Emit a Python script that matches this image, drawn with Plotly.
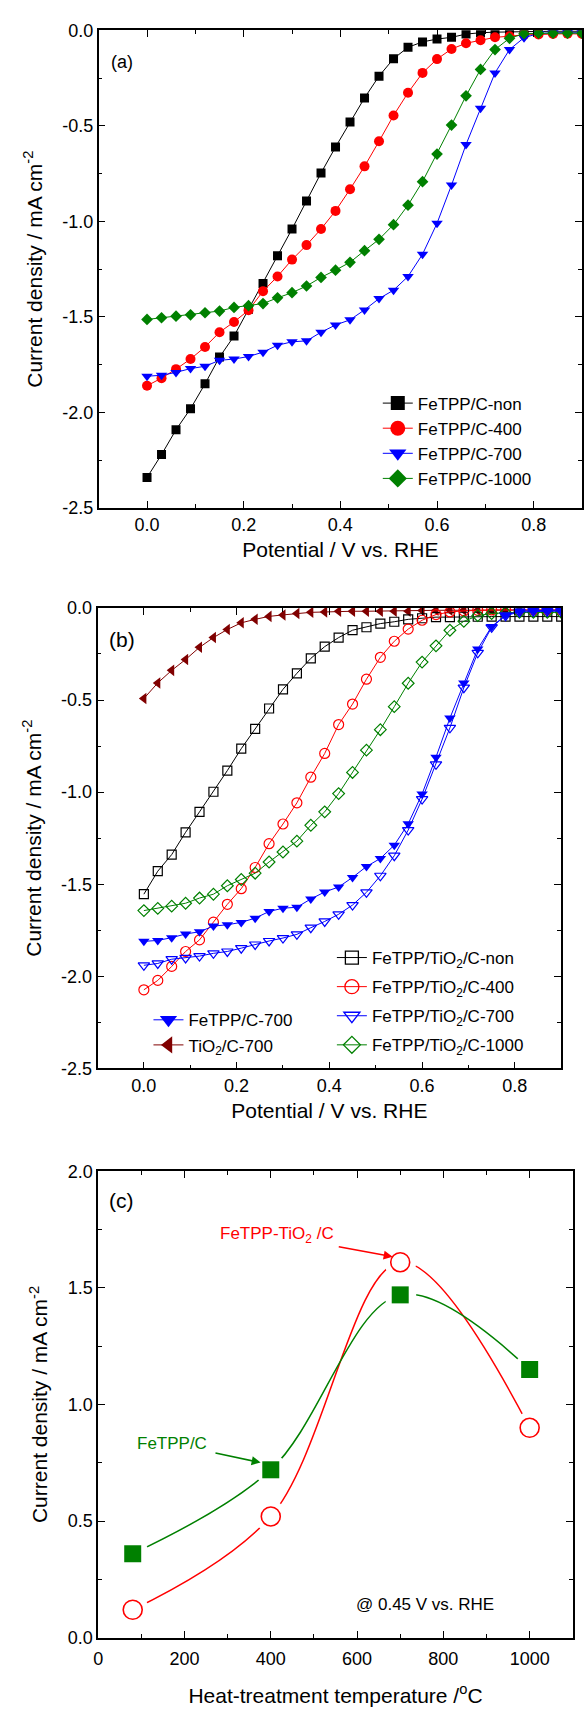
import plotly.graph_objects as go

# ---------------------------------------------------------------- data
potential = [0.00, 0.03, 0.06, 0.09, 0.12, 0.15, 0.18, 0.21, 0.24, 0.27,
             0.30, 0.33, 0.36, 0.39, 0.42, 0.45, 0.48, 0.51, 0.54, 0.57,
             0.60, 0.63, 0.66, 0.69, 0.72, 0.75, 0.78, 0.81, 0.84, 0.87, 0.90]

# (a) FeTPP/C, current density (mA cm-2)
fetpp_c_non = [-2.34, -2.22, -2.09, -1.98, -1.85, -1.71, -1.60, -1.46, -1.325, -1.18,
               -1.04, -0.893, -0.747, -0.611, -0.48, -0.354, -0.24, -0.149, -0.089, -0.061,
               -0.046, -0.037, -0.02, -0.013, -0.010, -0.008, -0.006, -0.005, -0.005, -0.005, -0.005]
fetpp_c_400 = [-1.86, -1.82, -1.773, -1.72, -1.657, -1.58, -1.526, -1.465, -1.365, -1.288,
               -1.20, -1.124, -1.04, -0.945, -0.832, -0.712, -0.581, -0.446, -0.327, -0.223,
               -0.151, -0.098, -0.068, -0.052, -0.037, -0.031, -0.024, -0.022, -0.020, -0.018, -0.020]
fetpp_c_700 = [-1.81, -1.805, -1.79, -1.77, -1.758, -1.727, -1.72, -1.707, -1.684, -1.648,
               -1.63, -1.625, -1.58, -1.542, -1.515, -1.463, -1.404, -1.36, -1.288, -1.172,
               -1.01, -0.81, -0.598, -0.408, -0.223, -0.101, -0.039, -0.017, -0.013, -0.013, -0.013]
fetpp_c_1000 = [-1.513, -1.504, -1.496, -1.489, -1.478, -1.469, -1.45, -1.441, -1.43, -1.40,
                -1.373, -1.338, -1.293, -1.255, -1.214, -1.153, -1.094, -1.017, -0.915, -0.792,
                -0.648, -0.496, -0.343, -0.205, -0.101, -0.042, -0.018, -0.015, -0.015, -0.015, -0.015]

# (b) FeTPP/TiO2/C and references
tio2_c_700 = [-0.492, -0.407, -0.339, -0.28, -0.214, -0.161, -0.117, -0.081, -0.062, -0.046,
              -0.038, -0.03, -0.024, -0.022, -0.018, -0.018, -0.018, -0.018, -0.018, -0.018,
              -0.014, -0.013, -0.012, -0.012, -0.012, -0.012, -0.012, -0.012, -0.012, -0.012, -0.012]
fetpp_tio2_c_non = [-1.554, -1.429, -1.339, -1.218, -1.107, -0.998, -0.883, -0.764, -0.657, -0.546,
                    -0.442, -0.355, -0.274, -0.21, -0.161, -0.121, -0.105, -0.085, -0.075, -0.062,
                    -0.056, -0.05, -0.05, -0.048, -0.048, -0.047, -0.047, -0.047, -0.047, -0.047, -0.047]
fetpp_tio2_c_400 = [-2.073, -2.022, -1.946, -1.865, -1.802, -1.706, -1.609, -1.524, -1.409, -1.28,
                    -1.173, -1.058, -0.919, -0.79, -0.633, -0.522, -0.387, -0.268, -0.181, -0.115,
                    -0.067, -0.036, -0.022, -0.016, -0.013, -0.011, -0.011, -0.011, -0.011, -0.011, -0.011]
fetpp_tio2_c_700 = [-1.94, -1.93, -1.907, -1.90, -1.89, -1.875, -1.865, -1.847, -1.827, -1.808,
                    -1.792, -1.772, -1.736, -1.702, -1.663, -1.613, -1.544, -1.454, -1.345, -1.206,
                    -1.038, -0.849, -0.651, -0.433, -0.244, -0.105, -0.042, -0.022, -0.018, -0.018, -0.018]
fetpp_tio2_c_1000 = [-1.643, -1.631, -1.619, -1.603, -1.575, -1.554, -1.508, -1.474, -1.44, -1.379,
                     -1.325, -1.266, -1.18, -1.107, -1.008, -0.893, -0.772, -0.661, -0.536, -0.409,
                     -0.294, -0.206, -0.121, -0.073, -0.042, -0.03, -0.026, -0.024, -0.024, -0.024, -0.024]

# (c) current density at 0.45 V vs. RHE against heat-treatment temperature
temperature = [80, 400, 700, 1000]
j045_fetpp_c = [0.36, 0.72, 1.47, 1.15]
j045_fetpp_tio2_c = [0.12, 0.52, 1.61, 0.90]

# tick labels (plain hyphen minus)
cd_ticks = [-2.5, -2.0, -1.5, -1.0, -0.5, 0.0]
cd_ticktext = ["-2.5", "-2.0", "-1.5", "-1.0", "-0.5", "0.0"]
pot_ticks = [0.0, 0.2, 0.4, 0.6, 0.8]
pot_ticktext = ["0.0", "0.2", "0.4", "0.6", "0.8"]

# ---------------------------------------------------------------- styling
FONT = "Liberation Sans, Arial, sans-serif"
BLACK, RED, BLUE, GREEN, MAROON = "#000000", "#ff0000", "#0000ff", "#008000", "#800000"
H = 1709.0
W = 585.0


def ydom(top_px, bottom_px):
    return [1 - bottom_px / H, 1 - top_px / H]


def xdom(left_px, right_px):
    return [left_px / W, right_px / W]


def axis(**kw):
    base = dict(
        showline=True, linecolor="black", linewidth=1.5, mirror="ticks",
        ticks="inside", ticklen=7, tickwidth=1.3, tickcolor="black",
        showgrid=False, zeroline=False,
        tickfont=dict(family=FONT, size=18, color="black"),
        title_font=dict(family=FONT, size=21, color="black"),
    )
    base.update(kw)
    return base


fig = go.Figure()


def curve(x, y, xa, ya, color, symbol, size, open_marker=False):
    marker = dict(symbol=symbol, size=size, color=color)
    if open_marker:
        marker["line"] = dict(color=color, width=1.2)
    else:
        marker["line"] = dict(width=0)
    fig.add_trace(go.Scatter(
        x=x, y=y, xaxis=xa, yaxis=ya, mode="lines+markers",
        line=dict(color=color, width=1), marker=marker, showlegend=False))


def legend_entry(name, color, symbol, size, legend, open_marker=False):
    marker = dict(symbol=symbol, size=size, color=color)
    marker["line"] = dict(color=color, width=1.3) if open_marker else dict(width=0)
    fig.add_trace(go.Scatter(
        x=[None], y=[None], xaxis="x", yaxis="y", mode="lines+markers", name=name,
        legendgroup=name, line=dict(color=color, width=1), marker=marker,
        legend=legend, showlegend=True))


# (a)
curve(potential, fetpp_c_non, "x", "y", BLACK, "square", 9)
curve(potential, fetpp_c_400, "x", "y", RED, "circle", 10)
curve(potential, fetpp_c_700, "x", "y", BLUE, "triangle-down", 10)
curve(potential, fetpp_c_1000, "x", "y", GREEN, "diamond", 9)
legend_entry("FeTPP/C-non", BLACK, "square", 14, "legend")
legend_entry("FeTPP/C-400", RED, "circle", 15, "legend")
legend_entry("FeTPP/C-700", BLUE, "triangle-down", 15, "legend")
legend_entry("FeTPP/C-1000", GREEN, "diamond", 14, "legend")

# (b)
curve(potential, tio2_c_700, "x2", "y2", MAROON, "triangle-left", 10)
curve(potential, fetpp_tio2_c_non, "x2", "y2", BLACK, "square-open", 9, True)
curve(potential, fetpp_tio2_c_400, "x2", "y2", RED, "circle-open", 10, True)
curve(potential, fetpp_tio2_c_1000, "x2", "y2", GREEN, "diamond-open", 9, True)
curve(potential, fetpp_tio2_c_700, "x2", "y2", BLUE, "triangle-down-open", 10, True)
curve(potential, fetpp_c_700, "x2", "y2", BLUE, "triangle-down", 10)
legend_entry("FeTPP/TiO<sub>2</sub>/C-non", BLACK, "square-open", 13, "legend2", True)
legend_entry("FeTPP/TiO<sub>2</sub>/C-400", RED, "circle-open", 14, "legend2", True)
legend_entry("FeTPP/TiO<sub>2</sub>/C-700", BLUE, "triangle-down-open", 14, "legend2", True)
legend_entry("FeTPP/TiO<sub>2</sub>/C-1000", GREEN, "diamond-open", 13, "legend2", True)
legend_entry("FeTPP/C-700 ", BLUE, "triangle-down", 15, "legend3")
legend_entry("TiO<sub>2</sub>/C-700", MAROON, "triangle-left", 15, "legend3")

# (c) smooth guide lines, broken around each symbol
for ys, color in ((j045_fetpp_tio2_c, RED), (j045_fetpp_c, GREEN)):
    fig.add_trace(go.Scatter(x=temperature, y=ys, xaxis="x3", yaxis="y3", mode="lines",
                             line=dict(color=color, width=1.5, shape="spline", smoothing=1),
                             showlegend=False, hoverinfo="skip"))
for ys in (j045_fetpp_tio2_c, j045_fetpp_c):
    fig.add_trace(go.Scatter(x=temperature, y=ys, xaxis="x3", yaxis="y3", mode="markers",
                             marker=dict(symbol="circle", size=32, color="white", line=dict(width=0)),
                             showlegend=False, hoverinfo="skip"))
fig.add_trace(go.Scatter(x=temperature, y=j045_fetpp_c, xaxis="x3", yaxis="y3", mode="markers",
                         marker=dict(symbol="square", size=17, color=GREEN, line=dict(width=0)),
                         showlegend=False))
fig.add_trace(go.Scatter(x=temperature, y=j045_fetpp_tio2_c, xaxis="x3", yaxis="y3", mode="markers",
                         marker=dict(symbol="circle-open", size=19, color=RED, line=dict(color=RED, width=1.6)),
                         showlegend=False))

ytitle = "Current density / mA cm<sup>-2</sup>"
minor_pot = dict(ticks="inside", ticklen=4, tickwidth=1.3, tickcolor="black", tickmode="linear", tick0=-0.1, dtick=0.2)
minor_cd = dict(ticks="inside", ticklen=4, tickwidth=1.3, tickcolor="black", tickmode="linear", tick0=-0.25, dtick=0.5)

legend_style = dict(font=dict(family=FONT, size=17, color="black"), bgcolor="rgba(0,0,0,0)",
                    xanchor="left", yanchor="top", itemwidth=30)

fig.update_layout(
    width=585, height=1709, margin=dict(l=0, r=0, t=0, b=0),
    paper_bgcolor="white", plot_bgcolor="white",
    font=dict(family=FONT, color="black"),
    xaxis=axis(domain=xdom(94.5, 582), anchor="y", range=[-0.1, 0.9], tickmode="array",
               tickvals=pot_ticks, ticktext=pot_ticktext, minor=minor_pot,
               title=dict(text="Potential / V vs. RHE", standoff=8)),
    yaxis=axis(domain=ydom(20.5, 504), anchor="x", range=[-2.5, 0], tickmode="array",
               tickvals=cd_ticks, ticktext=cd_ticktext, minor=minor_cd,
               title=dict(text=ytitle, standoff=14)),
    xaxis2=axis(domain=xdom(93.3, 561), anchor="y2", range=[-0.1, 0.9], tickmode="array",
                tickvals=pot_ticks, ticktext=pot_ticktext, minor=minor_pot,
                title=dict(text="Potential / V vs. RHE", standoff=8)),
    yaxis2=axis(domain=ydom(605, 1071), anchor="x2", range=[-2.5, 0], tickmode="array",
                tickvals=cd_ticks, ticktext=cd_ticktext, minor=minor_cd,
                title=dict(text=ytitle, standoff=14)),
    xaxis3=axis(domain=xdom(94, 572.7), anchor="y3", range=[0, 1100], tickmode="linear",
                tick0=0, dtick=200, ticklabelstandoff=4,
                minor=dict(ticks="inside", ticklen=4, tickwidth=1.3, tickcolor="black", dtick=100),
                title=dict(text="Heat-treatment temperature /<sup>o</sup>C", standoff=20)),
    yaxis3=axis(domain=ydom(1175, 1647), anchor="x3", range=[0, 2.0], tickmode="linear",
                tick0=0, dtick=0.5, tickformat=".1f",
                minor=dict(ticks="inside", ticklen=4, tickwidth=1.3, tickcolor="black", dtick=0.25),
                title=dict(text=ytitle, standoff=14)),
    legend=dict(x=(418 - 42) / W, y=1 - 380 / H, tracegroupgap=0, **legend_style),
    legend2=dict(x=(371.7 - 42) / W, y=1 - 941 / H, tracegroupgap=4, **legend_style),
    legend3=dict(x=(186.7 - 42) / W, y=1 - 1004 / H, tracegroupgap=0, **legend_style),
)

# panel labels and notes
label_font = dict(family=FONT, color="black")
fig.add_annotation(x=-0.052, y=-0.168, xref="x", yref="y", text="(a)", showarrow=False,
                   font=dict(size=18, **label_font))
fig.add_annotation(x=-0.048, y=-0.17, xref="x2", yref="y2", text="(b)", showarrow=False,
                   font=dict(size=21, **label_font))
fig.add_annotation(x=55, y=1.875, xref="x3", yref="y3", text="(c)", showarrow=False,
                   font=dict(size=21, **label_font))
fig.add_annotation(x=758, y=0.143, xref="x3", yref="y3", text="@ 0.45 V vs. RHE", showarrow=False,
                   font=dict(size=17, **label_font))

# callouts in (c): label text with an arrow to the marked point
fig.add_annotation(x=687, y=1.632, ax=415, ay=1.726, xref="x3", yref="y3", axref="x3", ayref="y3",
                   text="FeTPP-TiO<sub>2</sub> /C", font=dict(family=FONT, size=17, color=RED),
                   showarrow=True, arrowhead=2, arrowsize=1.2, arrowwidth=1.5, arrowcolor=RED,
                   standoff=2, borderpad=4)
fig.add_annotation(x=381, y=0.749, ax=171, ay=0.831, xref="x3", yref="y3", axref="x3", ayref="y3",
                   text="FeTPP/C", font=dict(family=FONT, size=17, color=GREEN),
                   showarrow=True, arrowhead=2, arrowsize=1.2, arrowwidth=1.5, arrowcolor=GREEN,
                   standoff=2, borderpad=8)

fig.write_html("out.html")
